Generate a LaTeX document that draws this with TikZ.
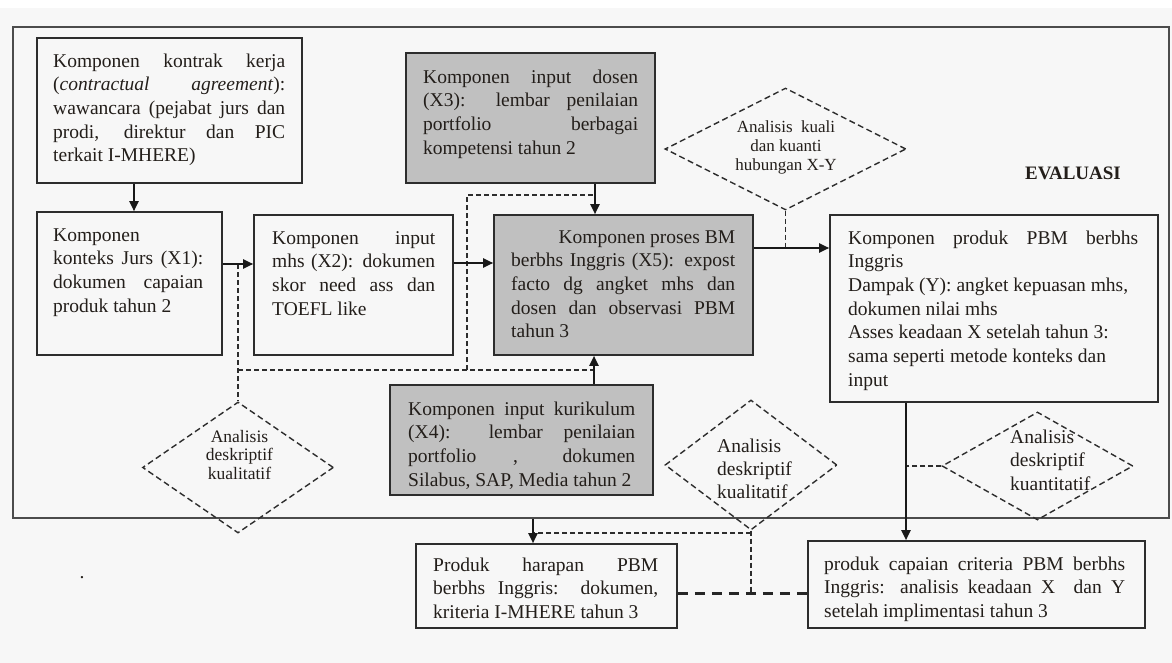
\documentclass[tikz,border=0pt]{standalone}
\usepackage{fontspec}
\setmainfont{Liberation Serif}
\usetikzlibrary{arrows.meta,shapes.geometric}
\setlength\parindent{0pt}
\setlength\parskip{0pt}
\definecolor{bgc}{RGB}{247,247,247}
\definecolor{linec}{RGB}{45,45,45}
\definecolor{grayc}{RGB}{192,192,192}
\definecolor{textc}{RGB}{35,30,26}
\newlength\lw
\newcommand\JL[1]{\leavevmode\hbox to \lw{\spaceskip=0.25em plus 1fil\relax #1}\\}
\tikzset{
  frame/.style={draw=linec!85, line width=1.8pt, fill=bgc, inner sep=0},
  wbox/.style={draw=linec, line width=1.6pt, fill=bgc, inner sep=0},
  gbox/.style={wbox, fill=grayc},
  txt/.style={anchor=north west, inner sep=0, align=left, text=textc,
    font=\fontsize{19.5}{23.7}\selectfont, text width=#1pt,
    execute at begin node={\setlength\lw{#1pt}\spaceskip=0pt\xspaceskip=0pt\parskip=0pt}},
  dtxt/.style={inner sep=0, text=textc},
  arr/.style={draw=black!90, line width=2pt, -{Triangle[length=10pt,width=9pt]}},
  dsh/.style={draw=linec, line width=1.5pt, dash pattern=on 5pt off 3pt},
  tdsh/.style={draw=black!85, line width=3pt, dash pattern=on 10pt off 7pt},
  dia/.style={diamond, draw=linec, line width=1.4pt, dash pattern=on 6pt off 3.5pt, inner sep=0}
}
\begin{document}
\begin{tikzpicture}[x=1pt,y=-1pt]
\useasboundingbox (0,0) rectangle (1172,663);
\fill[white] (0,0) rectangle (1172,663);
\fill[bgc] (0,8) rectangle (1172,663);
% frame
\node[frame, minimum width=1156, minimum height=491] (F) at (591,272.5) {};
\node[font=\bfseries\fontsize{19}{23}\selectfont, text=textc, anchor=base, inner sep=0] (ev) at (1073,180) {EVALUASI};
% boxes
\node[wbox, minimum width=265, minimum height=145] (A) at (169.5,110.5) {};
\node[wbox, minimum width=185, minimum height=143] (X1) at (129.5,283.5) {};
\node[wbox, minimum width=199, minimum height=140] (X2) at (353.5,285) {};
\node[gbox, minimum width=259, minimum height=140] (X5) at (623.5,285) {};
\node[gbox, minimum width=249, minimum height=130] (X3) at (530.5,118) {};
\node[gbox, minimum width=263, minimum height=110] (X4) at (521.5,440) {};
\node[wbox, minimum width=328, minimum height=187] (P) at (994,308.5) {};
\node[wbox, minimum width=261, minimum height=84] (H) at (546.5,586) {};
\node[wbox, minimum width=337, minimum height=87] (C) at (976.5,584.5) {};
% diamonds
\node[dia, minimum width=241, minimum height=122] (DT) at (785.5,149) {};
\node[dia, minimum width=191, minimum height=131] (DL) at (238,467.5) {};
\node[dia, minimum width=172, minimum height=130] (DM) at (751,465) {};
\node[dia, minimum width=191, minimum height=108] (DR) at (1037.5,466) {};
% helper coordinates
\coordinate (c1) at (134,0);
\coordinate (c2) at (0,264);
\coordinate (c3) at (0,263);
\coordinate (c4) at (595,0);
\coordinate (c5) at (594,0);
\coordinate (c6) at (0,248);
\coordinate (c7) at (906,0);
\coordinate (c8) at (533,0);
\coordinate (c9) at (0,593);
\coordinate (j1) at (238,264);
\coordinate (j2) at (238,370);
\coordinate (j4) at (467,370);
\coordinate (k1) at (467,195);
\coordinate (k2) at (0,533);
% dashed connectors
\draw[dsh] (j1) -- (DL.north);
\draw[dsh] (j2) -- (j2 -| c5);
\draw[dsh] (j4) -- (k1) -- (k1 -| c4);
\draw[dsh] (DT.south) -- (DT.south |- c6);
\draw[dsh] (DR.west) -- (DR.west -| c7);
\draw[dsh] (DM.south) -- (DM.south |- c9);
\draw[dsh] (DM.south |- k2) -- (c8 |- k2);
% arrows
\draw[arr] (A.south -| c1) -- (X1.north -| c1);
\draw[arr] (X1.east |- c2) -- (X2.west |- c2);
\draw[arr] (X2.east |- c3) -- (X5.west |- c3);
\draw[arr] (X3.south -| c4) -- (X5.north -| c4);
\draw[arr] (X4.north -| c5) -- (X5.south -| c5);
\draw[arr] (X5.east |- c6) -- (P.west |- c6);
\draw[arr] (P.south -| c7) -- (C.north -| c7);
\draw[arr] (F.south -| c8) -- (H.north -| c8);
\draw[tdsh] (H.east |- c9) -- (C.west |- c9);
% texts
\node[txt=232] (At) at (53,50.4) {\JL{\strut Komponen kontrak kerja}\JL{(\textit{contractual} \textit{agreement}):}\JL{wawancara (pejabat jurs dan}\JL{prodi, direktur dan PIC}terkait I-MHERE)};
\node[txt=150] (X1t) at (53,224.4) {\strut Komponen\\\JL{konteks Jurs (X1):}\JL{dokumen capaian}produk tahun 2};
\node[txt=163] (X2t) at (272,227.4) {\JL{\strut Komponen input}\JL{mhs (X2): dokumen}\JL{skor need ass dan}TOEFL like};
\node[txt=224] (X5t) at (511,226.4) {\JL{\strut\hskip 0pt plus 1fill Komponen proses BM}\JL{berbhs Inggris (X5): expost}\JL{facto dg angket mhs dan}\JL{dosen dan observasi PBM}tahun 3};
\node[txt=215] (X3t) at (423,66.4) {\JL{\strut Komponen input dosen}\JL{(X3): lembar penilaian}\JL{portfolio berbagai}kompetensi tahun 2};
\node[txt=227] (X4t) at (408,398.4) {\JL{\strut Komponen input kurikulum}\JL{(X4): lembar penilaian}\JL{portfolio , dokumen}\mbox{Silabus, SAP, Media tahun 2}};
\node[txt=290] (Pt) at (848,227.4) {\JL{\strut Komponen produk PBM berbhs}Inggris\\Dampak (Y): angket kepuasan mhs,\\dokumen nilai mhs\\Asses keadaan X setelah tahun 3:\\sama seperti metode konteks dan\\input};
\node[txt=225] (Ht) at (433,554.4) {\JL{\strut Produk harapan PBM}\JL{berbhs Inggris: dokumen,}kriteria I-MHERE tahun 3};
\node[txt=301] (Ct) at (824,553.4) {\JL{\strut produk capaian criteria PBM berbhs}\JL{Inggris: analisis keadaan X \ dan Y}setelah implimentasi tahun 3};
% diamond texts
\node[dtxt, anchor=north, align=center, font=\fontsize{17}{19}\selectfont] (DTt) at (786,119.4) {\strut Analisis\ \ kuali\\dan kuanti\\hubungan X-Y};
\node[dtxt, anchor=north, align=center, font=\fontsize{17.5}{18.5}\selectfont] (DLt) at (239.5,429) {\strut Analisis\\deskriptif\\kualitatif};
\node[dtxt, anchor=north west, align=left, font=\fontsize{19.5}{23}\selectfont] (DMt) at (717,435.9) {\strut Analisis\\deskriptif\\kualitatif};
\node[dtxt, anchor=north west, align=left, font=\fontsize{19.5}{23.5}\selectfont] (DRt) at (1010,426.5) {\strut Analisis\\deskriptif\\kuantitatif};
\node[dtxt, font=\fontsize{19.5}{23}\selectfont] (dot) at (82,578) {.};
\end{tikzpicture}
\end{document}
